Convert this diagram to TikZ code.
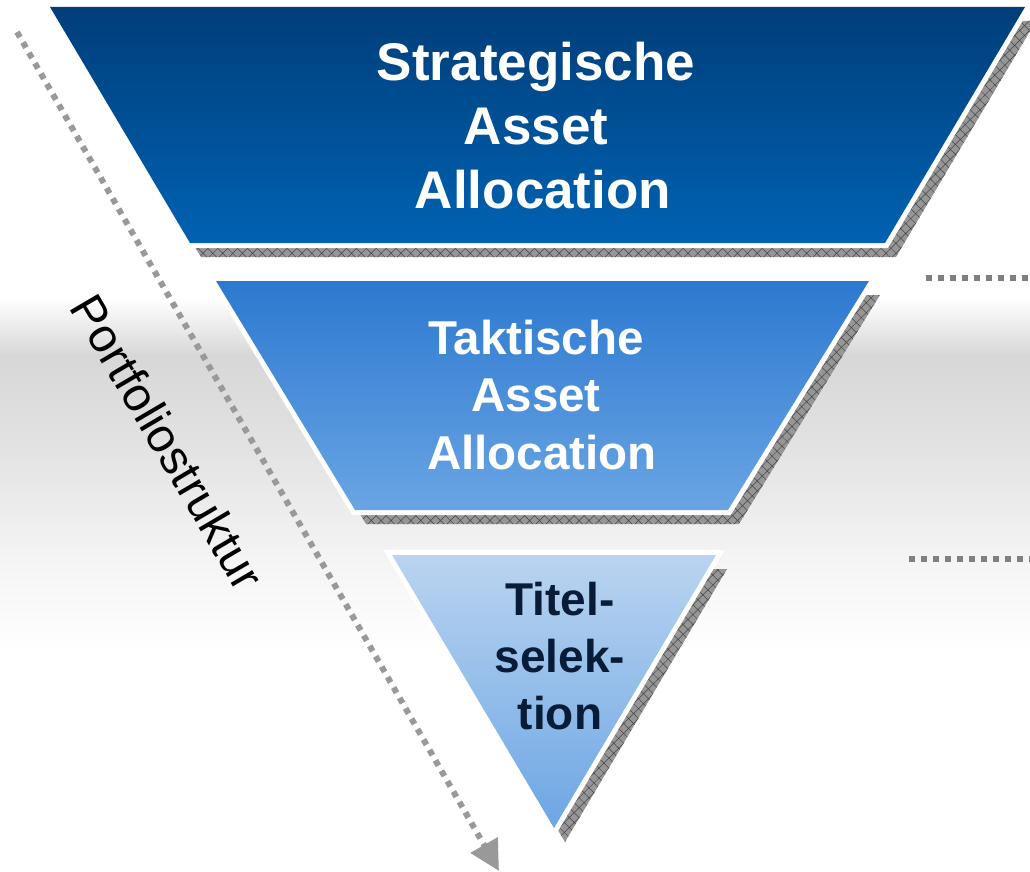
\documentclass[tikz,border=0pt]{standalone}
\usepackage{fontspec}
\setmainfont{Liberation Sans}
\usetikzlibrary{arrows.meta,patterns.meta}
\definecolor{cAtop}{RGB}{0,62,122}
\definecolor{cAbot}{RGB}{0,98,178}
\definecolor{cBtop}{RGB}{45,121,208}
\definecolor{cBbot}{RGB}{105,165,228}
\definecolor{cCtop}{RGB}{186,212,240}
\definecolor{cCbot}{RGB}{108,166,228}
\definecolor{txtC}{RGB}{8,28,56}
\definecolor{bandA}{RGB}{215,215,215}
\definecolor{bandB}{RGB}{227,227,227}
\definecolor{bandC}{RGB}{243,243,243}
\definecolor{shadowgray}{RGB}{150,150,150}
\definecolor{shadowline}{RGB}{70,70,70}
\definecolor{arrowgray}{RGB}{153,153,153}
\definecolor{dotgray}{RGB}{128,128,128}
\def\shapeA{(50,7) -- (1025,7) -- (885,243) -- (190,243) -- cycle}
\def\shapeB{(216,281) -- (869,281) -- (728,510) -- (355,510) -- cycle}
\def\shapeC{(392,555) -- (716,555) -- (554,828) -- cycle}
\begin{document}
\begin{tikzpicture}[x=1pt,y=-1pt,
  shadowbase/.style={fill=shadowgray, shift={(11,14)}},
  shadowhatch/.style={pattern={Hatch[angle=45,distance=7pt,line width=0.5pt]}, pattern color=shadowline, shift={(11,14)}},
  whiteedge/.style={draw=white, line width=10pt, line join=miter},
  bigtext/.style={font=\bfseries\fontsize{53}{64}\selectfont, text=white, align=center, inner sep=0pt},
  midtext/.style={font=\bfseries\fontsize{47.5}{57.5}\selectfont, text=white, align=center, inner sep=0pt},
  smalltext/.style={font=\bfseries\fontsize{46}{57}\selectfont, text=txtC, align=center, inner sep=0pt},
  sidetext/.style={font=\fontsize{47.5}{52}\selectfont, text=black, inner sep=0pt},
  portarrow/.style={draw=arrowgray, line width=6pt, dash pattern=on 6pt off 6pt, -{Triangle[length=30pt,width=30pt]}},
  dotline/.style={draw=dotgray, line width=6pt, dash pattern=on 6pt off 6pt}]
\useasboundingbox (0,0) rectangle (1030,872);
% background band
\fill[white] (0,0) rectangle (1030,872);
\shade[top color=white, bottom color=bandA] (0,298) rectangle (1030,356);
\shade[top color=bandA, bottom color=bandB] (0,355) rectangle (1030,451);
\shade[top color=bandB, bottom color=bandC] (0,450) rectangle (1030,551);
\shade[top color=bandC, bottom color=white] (0,550) rectangle (1030,650);
% shadows
\fill[shadowbase] \shapeA;
\fill[shadowhatch] \shapeA;
\fill[shadowbase] \shapeB;
\fill[shadowhatch] \shapeB;
\fill[shadowbase] \shapeC;
\fill[shadowhatch] \shapeC;
% shapes
\draw[whiteedge] \shapeA;
\shade[top color=cAtop, bottom color=cAbot] \shapeA;
\draw[whiteedge] \shapeB;
\shade[top color=cBtop, bottom color=cBbot] \shapeB;
\draw[whiteedge] \shapeC;
\shade[top color=cCtop, bottom color=cCbot] \shapeC;
% texts
\node[bigtext] (saa) at (536,126) {Strategische\\Asset\\\hspace*{14pt}Allocation};
\node[midtext] (taa) at (536,395) {Taktische\\Asset\\\hspace*{12pt}Allocation};
\node[smalltext] (ts) at (560,656) {Titel-\\selek-\\tion};
\node[sidetext, rotate=-59.5] (ps) at (168,442) {Portfoliostruktur};
% arrow
\coordinate (arrS) at (17,32);
\coordinate (arrE) at (499,871);
\draw[portarrow] (arrS) -- (arrE);
% right dotted lines
\coordinate (dA1) at (926,278);
\coordinate (dA2) at (1030,278);
\coordinate (dB1) at (909,559);
\coordinate (dB2) at (1030,559);
\draw[dotline] (dA1) -- (dA2);
\draw[dotline] (dB1) -- (dB2);
\end{tikzpicture}
\end{document}
